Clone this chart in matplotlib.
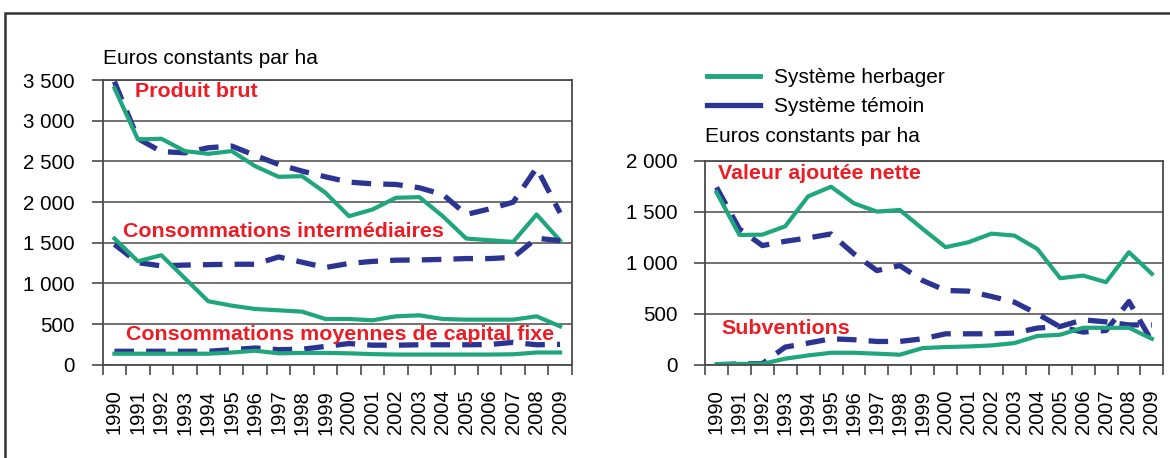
import numpy as np
import matplotlib.pyplot as plt
from matplotlib.lines import Line2D
from matplotlib.patches import Rectangle

plt.rcParams['font.family'] = ['Liberation Sans', 'DejaVu Sans']

years = [str(y) for y in range(1990, 2010)]

# left panel - euros constants par ha
pb_herb = [3400, 2770, 2778, 2626, 2593, 2626, 2441, 2310, 2318, 2113,
           1826, 1908, 2052, 2060, 1826, 1551, 1530, 1510, 1847, 1526]
pb_tem = [3480, 2780, 2620, 2605, 2667, 2688, 2573, 2462, 2380, 2310,
          2245, 2224, 2216, 2175, 2093, 1847, 1916, 1998, 2420, 1867]
ci_herb = [1551, 1272, 1346, 1063, 780, 726, 685, 669, 652, 562,
           562, 546, 595, 607, 562, 554, 554, 554, 595, 472]
ci_tem = [1480, 1255, 1215, 1225, 1230, 1235, 1235, 1325, 1260, 1195,
          1245, 1270, 1285, 1288, 1295, 1305, 1305, 1320, 1555, 1525]
cmcf_herb = [135, 135, 135, 135, 135, 150, 172, 140, 145, 145,
             140, 130, 125, 125, 125, 125, 125, 128, 150, 150]
cmcf_tem = [165, 165, 165, 165, 165, 185, 205, 185, 190, 225,
            260, 240, 240, 245, 245, 245, 248, 275, 245, 250]

# right panel
van_herb = [1690, 1272, 1275, 1357, 1651, 1745, 1582, 1501, 1517, 1331,
            1152, 1201, 1285, 1266, 1135, 848, 874, 809, 1103, 891]
van_tem = [1739, 1331, 1168, 1210, 1243, 1282, 1086, 923, 972, 825,
           728, 721, 669, 613, 499, 370, 320, 335, 620, 230]
sub_herb = [5, 8, 8, 59, 91, 117, 117, 108, 98, 163,
            173, 179, 189, 212, 281, 294, 362, 362, 362, 254]
sub_tem = [0, 8, 10, 173, 212, 254, 245, 228, 228, 254,
           303, 303, 303, 310, 359, 375, 440, 420, 390, 390]

green = '#1fa67c'
blue = '#2b3492'
red = '#ec1c24'
grid_c = '#4a4a4a'

fig = plt.figure(figsize=(11.7, 4.58), dpi=100)
ax1 = fig.add_axes([0.0878, 0.2037, 0.4009, 0.6216])
ax2 = fig.add_axes([0.6026, 0.2037, 0.3917, 0.4454])

x = np.arange(len(years))

def style(ax, ymax):
    ax.set_xlim(-0.5, len(years) - 0.5)
    ax.set_ylim(0, ymax)
    ax.set_yticks(np.arange(0, ymax + 1, 500))
    ax.set_yticklabels([f'{v:,}'.replace(',', ' ') for v in range(0, ymax + 1, 500)])
    ax.set_xticks(np.arange(-0.5, len(years)), minor=False)
    ax.set_xticklabels([])
    ax.set_xticks(x, minor=True)
    ax.set_xticklabels(years, minor=True, rotation=90, fontsize=14.5)
    ax.tick_params(axis='x', which='major', length=7, width=1.2, color=grid_c)
    ax.tick_params(axis='x', which='minor', length=0, pad=18)
    ax.tick_params(axis='y', length=8, width=1.2, color=grid_c, labelsize=14.8, pad=12)
    ax.yaxis.grid(True, color=grid_c, lw=1.1)
    ax.set_axisbelow(True)
    for s in ax.spines.values():
        s.set_color(grid_c)
        s.set_linewidth(1.3)

style(ax1, 3500)
style(ax2, 2000)

dash = dict(color=blue, lw=3.8, dashes=(3.7, 2.3))
full = dict(color=green, lw=3.0)

for h, t in [(pb_herb, pb_tem), (ci_herb, ci_tem), (cmcf_herb, cmcf_tem)]:
    ax1.plot(x, t, **dash)
    ax1.plot(x, h, **full)
for h, t in [(van_herb, van_tem), (sub_herb, sub_tem)]:
    ax2.plot(x, t, **dash)
    ax2.plot(x, h, **full)

lab = dict(color=red, fontsize=15.4, fontweight='bold', va='center', zorder=5)
ax1.text(0.88, 3353, 'Produit brut', **lab)
ax1.text(0.37, 1640, 'Consommations intermédiaires', **lab)
ax1.text(0.49, 372, 'Consommations moyennes de capital fixe', **lab)
ax2.text(0.07, 1870, 'Valeur ajoutée nette', **lab)
ax2.text(0.2, 355, 'Subventions', **lab)

fig.text(103 / 1170, 1 - 59 / 458, 'Euros constants par ha', fontsize=15, va='center')
fig.text(705 / 1170, 1 - 137 / 458, 'Euros constants par ha', fontsize=15, va='center')

handles = [Line2D([], [], color=green, lw=3.5), Line2D([], [], color=blue, lw=3.8)]
fig.legend(handles, ['Système herbager', 'Système témoin'], loc='upper left',
           bbox_to_anchor=(697 / 1170, 1 - 58 / 458), frameon=False, fontsize=15,
           handlelength=2.5, handletextpad=0.7, labelspacing=0.45, borderpad=0)

fig.patches.append(Rectangle((5 / 1170, -0.1), 1.2, 1.1 - 12.7 / 458, transform=fig.transFigure,
                             fill=False, ec='#333333', lw=1.8))

fig.savefig('out.png', dpi=100)
